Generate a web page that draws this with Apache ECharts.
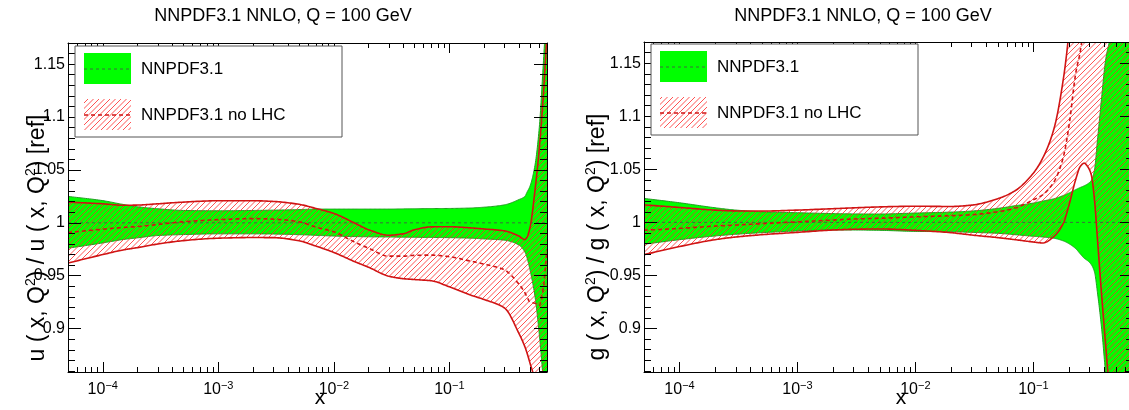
<!DOCTYPE html>
<html><head><meta charset="utf-8">
<script src="https://cdn.jsdelivr.net/npm/echarts@6/dist/echarts.min.js"></script>
<style>html,body{margin:0;padding:0;background:#fff}#c{width:1129px;height:410px}</style>
</head><body><div id="c"></div>
<script>
// ---------------- data ----------------
const X_RANGE = [5e-5, 0.7];
const Y_RANGE = [0.859, 1.170];
const X_MAJOR = [1e-4, 1e-3, 1e-2, 1e-1];
const X_MAJOR_EXP = ['\u22124', '\u22123', '\u22122', '\u22121'];
const X_MINOR = [5e-5,6e-5,7e-5,8e-5,9e-5, 2e-4,3e-4,4e-4,5e-4,6e-4,7e-4,8e-4,9e-4,
  2e-3,3e-3,4e-3,5e-3,6e-3,7e-3,8e-3,9e-3, 2e-2,3e-2,4e-2,5e-2,6e-2,7e-2,8e-2,9e-2,
  0.2,0.3,0.4,0.5,0.6];
const Y_MAJOR = [0.9, 0.95, 1, 1.05, 1.1, 1.15];
const Y_LABELS = ['0.9', '0.95', '1', '1.05', '1.1', '1.15'];
const Y_MINOR = [0.86,0.87,0.88,0.89,0.91,0.92,0.93,0.94,0.96,0.97,0.98,0.99,
  1.01,1.02,1.03,1.04,1.06,1.07,1.08,1.09,1.11,1.12,1.13,1.14,1.16];

const TITLE = 'NNPDF3.1 NNLO, Q = 100 GeV';
const LEGEND_NAMES = ['NNPDF3.1', 'NNPDF3.1 no LHC'];
const REF_X = [5e-5, 0.7];
const REF_Y = [1, 1];

// left panel: up quark
const L_X  = [5e-5, 1e-4, 1.5e-4, 2e-4, 3e-4, 5e-4, 1e-3, 2e-3, 3e-3, 5e-3, 7e-3, 1e-2, 1.5e-2, 2e-2, 3e-2, 4e-2, 5e-2, 7e-2, 0.1, 0.15, 0.2, 0.3, 0.4, 0.45, 0.47, 0.5, 0.55, 0.6, 0.65, 0.7];
const L_GU = [1.025, 1.021, 1.0174, 1.0152, 1.0133, 1.0117, 1.0114, 1.0117, 1.012, 1.0125, 1.013, 1.013, 1.013, 1.013, 1.013, 1.0132, 1.0133, 1.0135, 1.0136, 1.014, 1.0148, 1.017, 1.022, 1.025, 1.029, 1.035, 1.054, 1.09, 1.15, 1.21];
const L_GL = [0.976, 0.981, 0.9842, 0.9858, 0.988, 0.9889, 0.9896, 0.9896, 0.9894, 0.9888, 0.9882, 0.9875, 0.987, 0.9868, 0.9866, 0.9864, 0.9863, 0.9862, 0.986, 0.9855, 0.9848, 0.9836, 0.979, 0.9725, 0.967, 0.955, 0.931, 0.895, 0.85, 0.79];
const L_RU = [1.0196, 1.018, 1.0166, 1.0168, 1.018, 1.0196, 1.0209, 1.0209, 1.0202, 1.0175, 1.0136, 1.0089, 1.0, 0.9935, 0.9883, 0.9897, 0.9935, 0.9962, 0.9963, 0.9953, 0.9942, 0.9924, 0.9875, 0.9842, 0.9865, 0.996, 1.03, 1.07, 1.12, 1.18];
const L_RL = [0.962, 0.970, 0.9744, 0.9766, 0.980, 0.9832, 0.9855, 0.9861, 0.986, 0.983, 0.978, 0.972, 0.9635, 0.958, 0.9495, 0.9472, 0.9464, 0.9452, 0.9395, 0.932, 0.9275, 0.9195, 0.8955, 0.883, 0.877, 0.867, 0.85, 0.80, 0.77, 0.75];
const L_RC = [0.9908, 0.994, 0.9956, 0.9965, 0.9985, 1.001, 1.003, 1.004, 1.0035, 1.001, 0.996, 0.9915, 0.982, 0.976, 0.9685, 0.9685, 0.9693, 0.9695, 0.968, 0.964, 0.961, 0.9555, 0.942, 0.934, 0.930, 0.925, 0.924, 0.922, 0.938, 0.975];

// right panel: gluon
const R_X  = [5e-5, 1e-4, 2e-4, 3e-4, 5e-4, 1e-3, 2e-3, 3e-3, 5e-3, 1e-2, 2e-2, 3e-2, 5e-2, 7e-2, 0.1, 0.12, 0.15, 0.18, 0.2, 0.23, 0.25, 0.27, 0.29, 0.31, 0.33, 0.35, 0.38, 0.41, 0.45, 0.5, 0.6, 0.7];
const R_GU = [1.0226, 1.0185, 1.0138, 1.0116, 1.01, 1.0091, 1.0083, 1.008, 1.0079, 1.0088, 1.0097, 1.0107, 1.0132, 1.0157, 1.0182, 1.0201, 1.0223, 1.0254, 1.0276, 1.031, 1.0329, 1.0345, 1.0364, 1.0395, 1.0495, 1.0777, 1.1184, 1.153, 1.175, 1.21, 1.3, 1.4];
const R_GL = [0.9794, 0.9837, 0.9872, 0.9888, 0.9903, 0.9919, 0.9928, 0.9928, 0.9925, 0.9915, 0.9912, 0.9906, 0.9897, 0.9884, 0.9869, 0.9862, 0.985, 0.9825, 0.98, 0.975, 0.9703, 0.9662, 0.9637, 0.9602, 0.9533, 0.9336, 0.8991, 0.8584, 0.82, 0.78, 0.7, 0.6];
const R_RU = [1.0165, 1.0141, 1.0116, 1.0108, 1.0107, 1.0116, 1.0129, 1.0137, 1.0146, 1.0152, 1.015, 1.0163, 1.0223, 1.0298, 1.0464, 1.0605, 1.0887, 1.1357, 1.178, 1.26, 1.3, 1.35, 1.4, 1.45, 1.5, 1.55, 1.6, 1.65, 1.7, 1.75, 1.8, 1.85];
const R_RL = [0.9696, 0.9772, 0.9837, 0.9862, 0.9884, 0.9906, 0.9928, 0.9935, 0.9938, 0.9925, 0.9903, 0.9881, 0.9856, 0.9837, 0.9815, 0.9806, 0.9869, 0.9994, 1.0157, 1.0414, 1.0527, 1.0558, 1.0523, 1.0448, 1.0213, 0.9837, 0.9305, 0.885, 0.83, 0.78, 0.7, 0.6];
const R_RC = [0.9926, 0.9943, 0.9965, 0.9975, 0.9988, 1.0005, 1.0022, 1.0032, 1.0039, 1.0052, 1.0063, 1.0072, 1.01, 1.0135, 1.0213, 1.026, 1.0385, 1.062, 1.09, 1.142, 1.161, 1.19, 1.22, 1.25, 1.28, 1.31, 1.35, 1.4, 1.45, 1.5, 1.6, 1.7];

// ---------------- styling / layout ----------------
const FONT = '"Liberation Sans", Arial, Helvetica, sans-serif';
const GREEN = '#00ff00', GREEN_EDGE = '#1f9f1f', GREEN_DASH = '#3d6e3d';
const RED = '#d01414';
const GRIDS = [{left: 68, top: 43, width: 479, height: 329}, {left: 644, top: 42, width: 489, height: 330}];

function makeHatch() {
  const s = 11;
  const c = document.createElement('canvas');
  c.width = s; c.height = s;
  const g = c.getContext('2d');
  g.strokeStyle = 'rgba(255,40,40,0.8)';
  g.lineWidth = 1;
  for (const k of [0, 5.5, 11, 16.5, 22]) {
    g.beginPath(); g.moveTo(-2, k + 2); g.lineTo(s + 2, k - s - 2); g.stroke();
  }
  return c;
}
const HATCH = {image: makeHatch(), repeat: 'repeat'};

function nearestIdx(arr, v, log) {
  let best = 0, bd = Infinity;
  arr.forEach((a, i) => {
    const d = log ? Math.abs(Math.log10(a) - Math.log10(v)) : Math.abs(a - v);
    if (d < bd) { bd = d; best = i; }
  });
  return best;
}

const lineBlack = {color: '#000', width: 1};
function xAxes(gi) {
  const base = {gridIndex: gi, type: 'log', logBase: 10, min: X_RANGE[0], max: X_RANGE[1], z: 10,
    splitLine: {show: false}, minorTick: {show: false}, minorSplitLine: {show: false}};
  return [
    Object.assign({}, base, {position: 'bottom',
      axisLine: {show: true, lineStyle: lineBlack},
      axisTick: {show: true, inside: true, length: 10, customValues: X_MAJOR, lineStyle: lineBlack},
      axisLabel: {show: true, customValues: X_MAJOR, margin: 8,
        formatter: v => '{b|10}{s|' + X_MAJOR_EXP[nearestIdx(X_MAJOR, v, true)] + '}',
        rich: {
          b: {fontSize: 16, fontFamily: FONT, color: '#000', lineHeight: 18, verticalAlign: 'bottom'},
          s: {fontSize: 11, fontFamily: FONT, color: '#000', lineHeight: 10, verticalAlign: 'top'}
        }}}),
    Object.assign({}, base, {position: 'bottom', axisLine: {show: false},
      axisTick: {show: true, inside: true, length: 5, customValues: X_MINOR, lineStyle: lineBlack},
      axisLabel: {show: false}}),
    Object.assign({}, base, {position: 'top', axisLine: {show: true, lineStyle: lineBlack},
      axisTick: {show: true, inside: true, length: 10, customValues: X_MAJOR, lineStyle: lineBlack},
      axisLabel: {show: false}}),
    Object.assign({}, base, {position: 'top', axisLine: {show: false},
      axisTick: {show: true, inside: true, length: 5, customValues: X_MINOR, lineStyle: lineBlack},
      axisLabel: {show: false}})
  ];
}
function yAxes(gi) {
  const base = {gridIndex: gi, type: 'value', min: Y_RANGE[0], max: Y_RANGE[1], z: 10,
    splitLine: {show: false}, minorTick: {show: false}};
  return [
    Object.assign({}, base, {position: 'left',
      axisLine: {show: true, onZero: false, lineStyle: lineBlack},
      axisTick: {show: true, inside: true, length: 13, customValues: Y_MAJOR, lineStyle: lineBlack},
      axisLabel: {show: true, customValues: Y_MAJOR, margin: 3, fontSize: 16, fontFamily: FONT, color: '#000',
        formatter: v => Y_LABELS[nearestIdx(Y_MAJOR, v, false)]}}),
    Object.assign({}, base, {position: 'left', axisLine: {show: false},
      axisTick: {show: true, inside: true, length: 7, customValues: Y_MINOR, lineStyle: lineBlack},
      axisLabel: {show: false}}),
    Object.assign({}, base, {position: 'right', axisLine: {show: true, onZero: false, lineStyle: lineBlack},
      axisTick: {show: true, inside: true, length: 13, customValues: Y_MAJOR, lineStyle: lineBlack},
      axisLabel: {show: false}}),
    Object.assign({}, base, {position: 'right', axisLine: {show: false},
      axisTick: {show: true, inside: true, length: 7, customValues: Y_MINOR, lineStyle: lineBlack},
      axisLabel: {show: false}})
  ];
}

// monotone cubic Hermite smoothing in pixel space (rendering only)
function smoothPts(P, per) {
  const n = P.length;
  if (n < 3) return P.slice();
  const h = [], d = [];
  for (let i = 0; i < n - 1; i++) {
    h.push(P[i + 1][0] - P[i][0]);
    d.push((P[i + 1][1] - P[i][1]) / h[i]);
  }
  const m = new Array(n);
  m[0] = d[0]; m[n - 1] = d[n - 2];
  for (let i = 1; i < n - 1; i++) {
    if (d[i - 1] * d[i] <= 0) m[i] = 0;
    else {
      const w1 = 2 * h[i] + h[i - 1], w2 = h[i] + 2 * h[i - 1];
      m[i] = (w1 + w2) / (w1 / d[i - 1] + w2 / d[i]);
    }
  }
  const out = [];
  for (let i = 0; i < n - 1; i++) {
    for (let k = 0; k < per; k++) {
      const t = k / per, t2 = t * t, t3 = t2 * t;
      const h00 = 2 * t3 - 3 * t2 + 1, h10 = t3 - 2 * t2 + t, h01 = -2 * t3 + 3 * t2, h11 = t3 - t2;
      out.push([P[i][0] + t * h[i],
        h00 * P[i][1] + h10 * h[i] * m[i] + h01 * P[i + 1][1] + h11 * h[i] * m[i + 1]]);
    }
  }
  out.push(P[n - 1]);
  return out;
}

function clipOf(params) {
  const c = params.coordSys;
  return {type: 'rect', shape: {x: c.x, y: c.y, width: c.width, height: c.height}};
}

// band: filled area between LO and HI, optional edges
function bandSeries(gi, X, LO, HI, fill, edge, z) {
  return {
    type: 'custom', xAxisIndex: gi * 4, yAxisIndex: gi * 4, z: z, silent: true, animation: false,
    data: X.map((x, i) => [x, LO[i], HI[i]]),
    encode: {x: 0, y: [1, 2]},
    renderItem: function (params, api) {
      if (params.dataIndex !== 0) return null;
      const up = smoothPts(X.map((x, i) => api.coord([x, HI[i]])), 16);
      const lo = smoothPts(X.map((x, i) => api.coord([x, LO[i]])), 16);
      const children = [{type: 'polygon', shape: {points: up.concat(lo.slice().reverse())},
        style: {fill: fill, stroke: null}}];
      if (edge) {
        children.push({type: 'polyline', shape: {points: up}, style: {fill: null, stroke: edge.color, lineWidth: edge.width}});
        children.push({type: 'polyline', shape: {points: lo}, style: {fill: null, stroke: edge.color, lineWidth: edge.width}});
      }
      return {type: 'group', clipPath: clipOf(params), children: children};
    }
  };
}
// curve: single line
function curveSeries(gi, X, Y, color, width, dash, z) {
  return {
    type: 'custom', xAxisIndex: gi * 4, yAxisIndex: gi * 4, z: z, silent: true, animation: false,
    data: X.map((x, i) => [x, Y[i]]),
    encode: {x: 0, y: 1},
    renderItem: function (params, api) {
      if (params.dataIndex !== 0) return null;
      const pts = smoothPts(X.map((x, i) => api.coord([x, Y[i]])), 16);
      return {type: 'group', clipPath: clipOf(params), children: [
        {type: 'polyline', shape: {points: pts},
         style: {fill: null, stroke: color, lineWidth: width, lineDash: dash || null}}]};
    }
  };
}

function panelSeries(gi, X, GU, GL, RU, RL, RC) {
  return [
    bandSeries(gi, X, GL, GU, GREEN, {color: GREEN_EDGE, width: 1}, 2),
    bandSeries(gi, X, RL, RU, HATCH, null, 3),
    {type: 'line', xAxisIndex: gi * 4, yAxisIndex: gi * 4, z: 4, silent: true, animation: false,
     showSymbol: false, symbol: 'none', data: REF_X.map((x, i) => [x, REF_Y[i]]),
     lineStyle: {color: GREEN_DASH, width: 1, type: [3, 3]}},
    curveSeries(gi, X, RU, RED, 1.6, null, 5),
    curveSeries(gi, X, RL, RED, 1.6, null, 5),
    curveSeries(gi, X, RC, RED, 1.6, [4, 3], 5)
  ];
}

function legend(x0, y0) {
  return [
    {type: 'rect', z: 100, shape: {x: x0, y: y0, width: 267, height: 91}, style: {fill: '#fff', stroke: '#555', lineWidth: 1}},
    {type: 'rect', z: 101, shape: {x: x0 + 9, y: y0 + 7, width: 47, height: 31}, style: {fill: GREEN}},
    {type: 'line', z: 102, shape: {x1: x0 + 9, y1: y0 + 23, x2: x0 + 56, y2: y0 + 23}, style: {stroke: GREEN_DASH, lineWidth: 1, lineDash: [3, 3]}},
    {type: 'rect', z: 101, shape: {x: x0 + 9, y: y0 + 53, width: 47, height: 31}, style: {fill: HATCH}},
    {type: 'line', z: 102, shape: {x1: x0 + 9, y1: y0 + 69, x2: x0 + 56, y2: y0 + 69}, style: {stroke: RED, lineWidth: 1.6, lineDash: [4, 3]}},
    {type: 'text', z: 102, x: x0 + 66, y: y0 + 23, style: {text: LEGEND_NAMES[0], font: '17px ' + FONT, fill: '#000', verticalAlign: 'middle', align: 'left'}},
    {type: 'text', z: 102, x: x0 + 66, y: y0 + 69, style: {text: LEGEND_NAMES[1], font: '17px ' + FONT, fill: '#000', verticalAlign: 'middle', align: 'left'}}
  ];
}
function yTitle(x, y, f) {
  const t = '{t|' + f + ' ( x, Q}{s|2}{t|) / ' + f + ' ( x, Q}{s|2}{t|) [ref]}';
  return {type: 'text', z: 50, x: x, y: y, rotation: Math.PI / 2,
    style: {text: t, align: 'center', verticalAlign: 'middle',
      rich: {t: {fontSize: 23, fontFamily: FONT, fill: '#000', lineHeight: 25, verticalAlign: 'bottom'},
             s: {fontSize: 14, fontFamily: FONT, fill: '#000', lineHeight: 10, verticalAlign: 'top'}}}};
}
function txt(x, y, s, size) {
  return {type: 'text', z: 50, x: x, y: y, style: {text: s, font: size + 'px ' + FONT, fill: '#000', align: 'center', verticalAlign: 'middle'}};
}

const chart = echarts.init(document.getElementById('c'), null, {renderer: 'canvas'});
chart.setOption({
  animation: false,
  backgroundColor: '#fff',
  grid: GRIDS.map(g => Object.assign({show: false, containLabel: false, outerBoundsMode: 'none'}, g)),
  xAxis: xAxes(0).concat(xAxes(1)),
  yAxis: yAxes(0).concat(yAxes(1)),
  series: panelSeries(0, L_X, L_GU, L_GL, L_RU, L_RL, L_RC)
    .concat(panelSeries(1, R_X, R_GU, R_GL, R_RU, R_RL, R_RC)),
  graphic: [
    txt(283, 16, TITLE, 18), txt(863, 16, TITLE, 18),
    txt(320, 398, 'x', 21), txt(901, 398, 'x', 21),
    yTitle(37, 238, 'u'), yTitle(597, 237, 'g')
  ].concat(legend(75, 46)).concat(legend(651, 44))
});
</script></body></html>
